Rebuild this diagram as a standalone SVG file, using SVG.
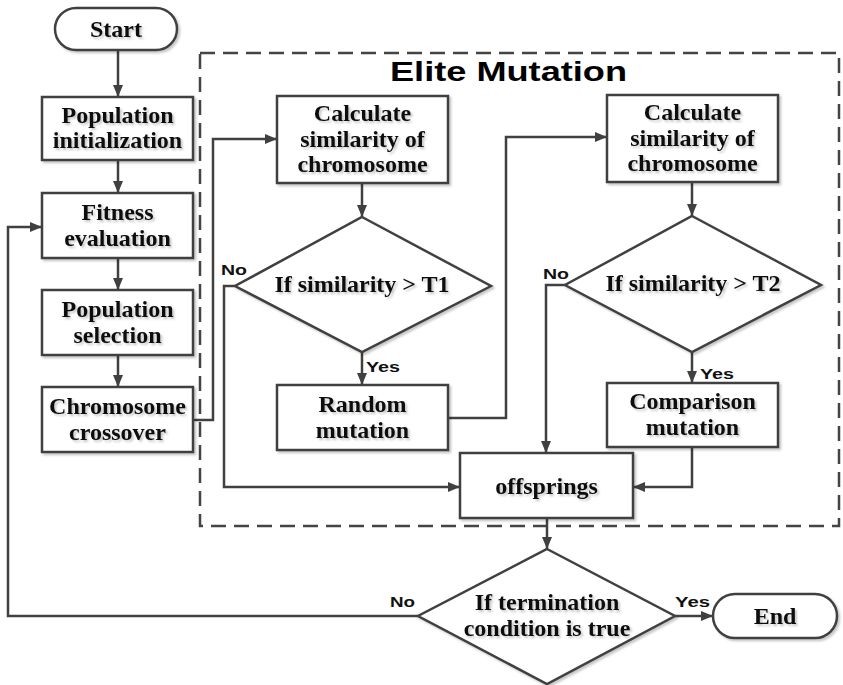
<svg xmlns="http://www.w3.org/2000/svg" width="843" height="685" viewBox="0 0 843 685">
  <defs>
    <marker id="arrow" markerUnits="userSpaceOnUse" markerWidth="12" markerHeight="10" refX="12" refY="5" orient="auto">
      <path d="M0,0 L12,5 L0,10 z" fill="#404040"/>
    </marker>
    <filter id="soft" x="-10%" y="-10%" width="130%" height="130%">
      <feDropShadow dx="2" dy="2" stdDeviation="1.2" flood-color="#000" flood-opacity="0.22"/>
    </filter>
  </defs>
  <style>
    .shape { fill: #fff; stroke: #404040; stroke-width: 2.5; filter: url(#soft); }
    .lbl { font-family: "Liberation Serif", "Times New Roman", serif; font-weight: bold; font-size: 24px; fill: #111; text-anchor: middle; filter: url(#soft); }
    .tag { font-family: "Liberation Sans", Arial, sans-serif; font-weight: bold; font-size: 15px; fill: #111; }
    .title { font-family: "Liberation Sans", Arial, sans-serif; font-weight: bold; font-size: 27px; fill: #000; }
    .edge { fill: none; stroke: #404040; stroke-width: 2.5; }
    .frame { fill: none; stroke: #444; stroke-width: 2.5; stroke-dasharray: 15 8; }
  </style>
  <rect width="843" height="685" fill="#fff"/>

  <!-- elite mutation frame -->
  <g id="elite-frame">
    <rect class="frame" x="200" y="53" width="639" height="473"/>
    <text class="title" x="390" y="81" textLength="237" lengthAdjust="spacingAndGlyphs">Elite Mutation</text>
  </g>

  <!-- connectors -->
  <g id="connectors">
    <path class="edge" d="M118,50 L118,97" marker-end="url(#arrow)"/>
    <path class="edge" d="M118,160 L118,193" marker-end="url(#arrow)"/>
    <path class="edge" d="M118,258 L118,290" marker-end="url(#arrow)"/>
    <path class="edge" d="M118,355 L118,387" marker-end="url(#arrow)"/>
    <path class="edge" d="M193,420 L213,420 L213,139 L277,139" marker-end="url(#arrow)"/>
    <path class="edge" d="M362,183 L362,217" marker-end="url(#arrow)"/>
    <path class="edge" d="M362,352 L362,385" marker-end="url(#arrow)"/>
    <path class="edge" d="M235,286 L224,286 L224,487 L460,487" marker-end="url(#arrow)"/>
    <path class="edge" d="M448,418 L506,418 L506,137 L607,137" marker-end="url(#arrow)"/>
    <path class="edge" d="M692,182 L692,216" marker-end="url(#arrow)"/>
    <path class="edge" d="M692,352 L692,383" marker-end="url(#arrow)"/>
    <path class="edge" d="M565,285 L546,285 L546,453" marker-end="url(#arrow)"/>
    <path class="edge" d="M692,447 L692,487 L633,487" marker-end="url(#arrow)"/>
    <path class="edge" d="M547,518 L547,549" marker-end="url(#arrow)"/>
    <path class="edge" d="M675,616 L713,616" marker-end="url(#arrow)"/>
    <path class="edge" d="M418,616 L8,616 L8,227 L42,227" marker-end="url(#arrow)"/>
    <text class="tag" x="221" y="275" textLength="26" lengthAdjust="spacingAndGlyphs">No</text>
    <text class="tag" x="366" y="372" textLength="34" lengthAdjust="spacingAndGlyphs">Yes</text>
    <text class="tag" x="543" y="279" textLength="26" lengthAdjust="spacingAndGlyphs">No</text>
    <text class="tag" x="700" y="379" textLength="34" lengthAdjust="spacingAndGlyphs">Yes</text>
    <text class="tag" x="390" y="607" textLength="25" lengthAdjust="spacingAndGlyphs">No</text>
    <text class="tag" x="675" y="607" textLength="35" lengthAdjust="spacingAndGlyphs">Yes</text>
  </g>

  <g id="start">
    <rect class="shape" x="55" y="8" width="122" height="42" rx="21" ry="21"/>
    <text class="lbl" x="116" y="37">Start</text>
  </g>

  <g id="population-init">
    <rect class="shape" x="42" y="97" width="151" height="63"/>
    <text class="lbl" x="117.5" y="123">Population</text>
    <text class="lbl" x="117.5" y="148">initialization</text>
  </g>

  <g id="fitness-evaluation">
    <rect class="shape" x="42" y="193" width="151" height="65"/>
    <text class="lbl" x="117.5" y="220">Fitness</text>
    <text class="lbl" x="117.5" y="246">evaluation</text>
  </g>

  <g id="population-selection">
    <rect class="shape" x="42" y="290" width="151" height="65"/>
    <text class="lbl" x="117.5" y="317">Population</text>
    <text class="lbl" x="117.5" y="343">selection</text>
  </g>

  <g id="chromosome-crossover">
    <rect class="shape" x="42" y="387" width="151" height="65"/>
    <text class="lbl" x="117.5" y="414">Chromosome</text>
    <text class="lbl" x="117.5" y="440">crossover</text>
  </g>

  <g id="similarity-1">
    <rect class="shape" x="277" y="96" width="171" height="87"/>
    <text class="lbl" x="362.5" y="121">Calculate</text>
    <text class="lbl" x="362.5" y="147">similarity of</text>
    <text class="lbl" x="362.5" y="172">chromosome</text>
  </g>

  <g id="threshold-1">
    <polygon class="shape" points="362,217 491,286 362,352 235,286"/>
    <text class="lbl" x="362" y="292">If similarity &gt; T1</text>
  </g>

  <g id="random-mutation">
    <rect class="shape" x="277" y="385" width="171" height="65"/>
    <text class="lbl" x="362.5" y="412">Random</text>
    <text class="lbl" x="362.5" y="438">mutation</text>
  </g>

  <g id="similarity-2">
    <rect class="shape" x="607" y="95" width="171" height="87"/>
    <text class="lbl" x="692.5" y="120">Calculate</text>
    <text class="lbl" x="692.5" y="146">similarity of</text>
    <text class="lbl" x="692.5" y="171">chromosome</text>
  </g>

  <g id="threshold-2">
    <polygon class="shape" points="692,216 821,285 692,352 565,285"/>
    <text class="lbl" x="693" y="291">If similarity &gt; T2</text>
  </g>

  <g id="comparison-mutation">
    <rect class="shape" x="607" y="383" width="171" height="64"/>
    <text class="lbl" x="692.5" y="409">Comparison</text>
    <text class="lbl" x="692.5" y="435">mutation</text>
  </g>

  <g id="offsprings">
    <rect class="shape" x="460" y="453" width="173" height="65"/>
    <text class="lbl" x="546.5" y="494">offsprings</text>
  </g>

  <g id="termination">
    <polygon class="shape" points="547,549 675,616 547,684 418,616"/>
    <text class="lbl" x="547" y="610">If termination</text>
    <text class="lbl" x="547" y="636">condition is true</text>
  </g>

  <g id="end">
    <rect class="shape" x="713" y="594" width="124" height="44" rx="22" ry="22"/>
    <text class="lbl" x="775" y="624">End</text>
  </g>
</svg>
